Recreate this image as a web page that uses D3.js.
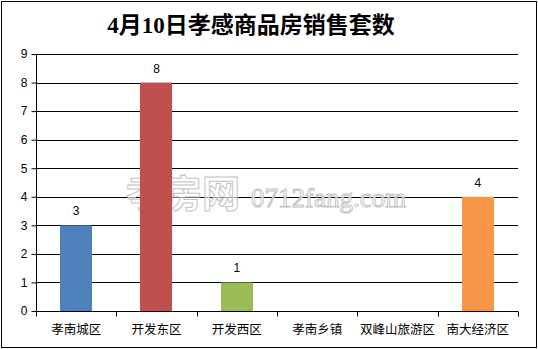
<!DOCTYPE html>
<html>
<head>
<meta charset="utf-8">
<script src="https://cdn.jsdelivr.net/npm/d3@7/dist/d3.min.js"></script>
<style>
  html, body { margin: 0; padding: 0; background: #fff; }
  svg { display: block; }
</style>
</head>
<body>
<svg id="chart"></svg>
<script>
// Chart data
const categories = ['孝南城区', '开发东区', '开发西区', '孝南乡镇', '双峰山旅游区', '南大经济区'];
const salesCounts = [3, 8, 1, 0, 0, 4];
const barColors = ['#4f81bd', '#c0504d', '#9bbb59', '#8064a2', '#4bacc6', '#f79646'];
const yTicks = [0, 1, 2, 3, 4, 5, 6, 7, 8, 9];
const chartTitle = '4月10日孝感商品房销售套数';

const width = 538, height = 349;
const margin = { top: 54, right: 20, bottom: 38, left: 36 };

const svg = d3.select('#chart')
    .attr('width', width)
    .attr('height', height);

// Background + outer border
svg.append('rect')
    .attr('x', 1.5).attr('y', 1.5)
    .attr('width', width - 3).attr('height', height - 3)
    .attr('fill', '#fff')
    .attr('stroke', '#000')
    .attr('stroke-width', 1);

// Title
svg.append('text')
    .attr('x', 251)
    .attr('y', 33)
    .attr('text-anchor', 'middle')
    .attr('font-family', '"Liberation Serif", "Noto Sans CJK SC", serif')
    .attr('font-weight', 'bold')
    .attr('font-size', 23)
    .attr('fill', '#000')
    .text(chartTitle);

const x = d3.scaleBand()
    .domain(categories)
    .range([margin.left, width - margin.right])
    .paddingInner(0.6)
    .paddingOuter(0.3);

const y = d3.scaleLinear()
    .domain([0, 9])
    .range([height - margin.bottom, margin.top]);

// Gridlines
svg.append('g')
    .selectAll('line')
    .data(yTicks.slice(1))
    .enter()
    .append('line')
    .attr('x1', margin.left)
    .attr('x2', width - margin.right)
    .attr('y1', d => Math.round(y(d)) + 0.5)
    .attr('y2', d => Math.round(y(d)) + 0.5)
    .attr('stroke', '#000')
    .attr('stroke-width', 1);

// Watermark
const wm = svg.append('g');
wm.append('text')
    .attr('x', 126).attr('y', 207)
    .attr('font-family', '"Noto Sans CJK SC", sans-serif')
    .attr('font-weight', 'bold')
    .attr('font-size', 38)
    .attr('fill', 'rgba(255,255,255,0.6)')
    .attr('stroke', '#c4c4c4')
    .attr('stroke-width', 1)
    .text('孝房网');
wm.append('text')
    .attr('x', 251).attr('y', 207)
    .attr('font-family', '"Liberation Serif", serif')
    .attr('font-size', 27)
    .attr('fill', 'rgba(255,255,255,0.6)')
    .attr('stroke', '#c4c4c4')
    .attr('stroke-width', 1)
    .text('0712fang.com');

// Bars
svg.append('g')
    .selectAll('rect')
    .data(salesCounts)
    .enter()
    .append('rect')
    .attr('x', (d, i) => Math.round(x(categories[i])))
    .attr('y', d => y(d))
    .attr('width', Math.round(x.bandwidth()))
    .attr('height', d => y(0) - y(d))
    .attr('fill', (d, i) => barColors[i]);

// Value labels (only for non-zero bars)
svg.append('g')
    .selectAll('text')
    .data(salesCounts.map((v, i) => ({ v, c: categories[i] })).filter(d => d.v > 0))
    .enter()
    .append('text')
    .attr('x', d => x(d.c) + x.bandwidth() / 2)
    .attr('y', d => y(d.v) - 10)
    .attr('text-anchor', 'middle')
    .attr('font-family', '"Liberation Sans", sans-serif')
    .attr('font-size', 12)
    .attr('fill', '#000')
    .text(d => d.v);

// Y axis
const yAxis = svg.append('g')
    .attr('transform', `translate(${margin.left + 0.5},0)`)
    .call(d3.axisLeft(y).tickValues(yTicks).tickSize(5).tickPadding(4).tickFormat(d3.format('d')));
yAxis.selectAll('path, line').attr('stroke', '#000');
yAxis.selectAll('text')
    .attr('font-family', '"Liberation Sans", sans-serif')
    .attr('font-size', 12)
    .attr('fill', '#000');
yAxis.select('.domain').attr('d', `M0,${y(9)}V${y(0)}`);

// X axis with boundary ticks between categories
const xAxisG = svg.append('g')
    .attr('transform', `translate(0,${Math.round(y(0)) + 0.5})`);
xAxisG.append('line')
    .attr('x1', margin.left).attr('x2', width - margin.right)
    .attr('stroke', '#000');
const step = (width - margin.left - margin.right) / categories.length;
xAxisG.selectAll('line.tick')
    .data(d3.range(categories.length + 1))
    .enter()
    .append('line')
    .attr('class', 'tick')
    .attr('x1', i => Math.round(margin.left + i * step) + 0.5)
    .attr('x2', i => Math.round(margin.left + i * step) + 0.5)
    .attr('y1', 0).attr('y2', 5)
    .attr('stroke', '#000');
xAxisG.selectAll('text')
    .data(categories)
    .enter()
    .append('text')
    .attr('x', d => x(d) + x.bandwidth() / 2)
    .attr('y', 22)
    .attr('text-anchor', 'middle')
    .attr('font-family', '"Noto Sans CJK SC", sans-serif')
    .attr('font-size', 12.5)
    .attr('fill', '#000')
    .text(d => d);
</script>
</body>
</html>
